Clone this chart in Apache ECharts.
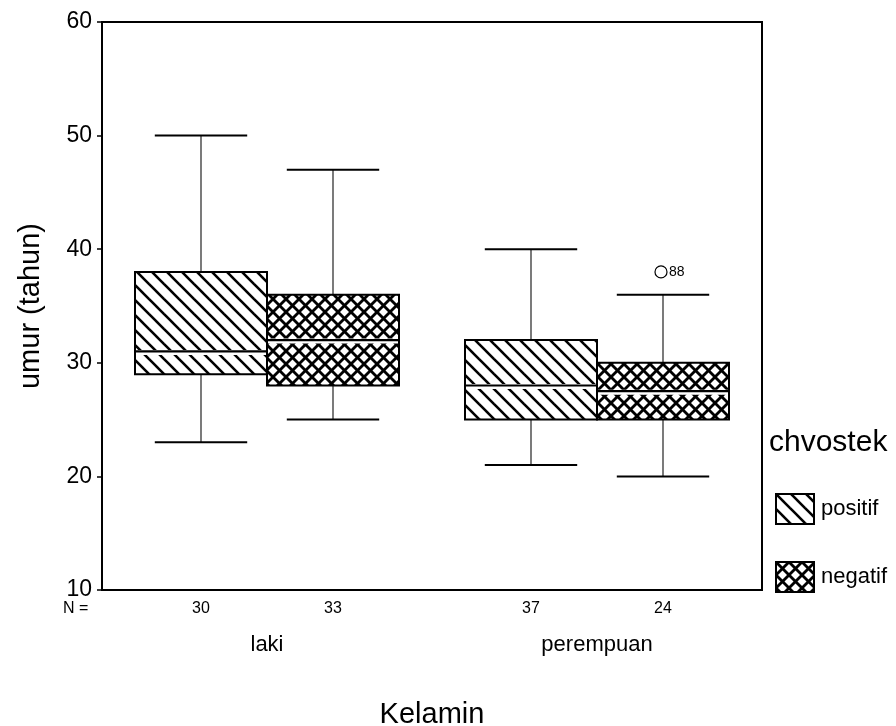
<!DOCTYPE html>
<html><head><meta charset="utf-8">
<script src="https://cdn.jsdelivr.net/npm/echarts@6/dist/echarts.min.js"></script>
<style>html,body{margin:0;padding:0;background:#fff}#c{width:896px;height:726px}</style>
</head><body><div id="c"></div>
<script>
// ---- data ----
const categories = ['laki', 'perempuan'];
const seriesNames = ['positif', 'negatif'];
// [min, Q1, median, Q3, max]
const positifStats = [[23, 29, 31, 38, 50], [21, 25, 28, 32, 40]];
const negatifStats = [[25, 28, 32, 36, 47], [20, 25, 27.5, 30, 36]];
const positifN = [30, 37];
const negatifN = [33, 24];
// [categoryIndex, value, case label]
const negatifOutliers = [[1, 38, '88']];
const yMin = 10, yMax = 60, yInterval = 10;

const FONT = '"Liberation Sans", Arial, sans-serif';

function hatchCanvas(size, width, cross) {
  const cv = document.createElement('canvas');
  cv.width = size; cv.height = size;
  const ctx = cv.getContext('2d');
  ctx.fillStyle = '#fff'; ctx.fillRect(0, 0, size, size);
  ctx.strokeStyle = '#000'; ctx.lineWidth = width;
  for (const c of [-size, 0, size]) {
    ctx.beginPath(); ctx.moveTo(-3, -3 + c); ctx.lineTo(size + 3, size + 3 + c); ctx.stroke();
    if (cross) { ctx.beginPath(); ctx.moveTo(-3, size + 3 + c); ctx.lineTo(size + 3, -3 + c); ctx.stroke(); }
  }
  return cv;
}
const patPositif = {image: hatchCanvas(15, 2.6, false), repeat: 'repeat'};
const patNegatif = {image: hatchCanvas(13, 2.8, true), repeat: 'repeat'};

function boxRenderer(side, fill) {
  return function (params, api) {
    const cat = api.value(0);
    const bw = api.size([1, 0])[0];
    const c = api.coord([cat, yMin])[0];
    const w = 0.4 * bw;
    const x0 = side < 0 ? c - w : c;
    const bc = x0 + w / 2;
    const cap = 0.14 * bw;
    const yv = k => api.coord([cat, api.value(k)])[1];
    const yLo = yv(1), yQ1 = yv(2), yMed = yv(3), yQ3 = yv(4), yHi = yv(5);
    const yBase = api.coord([cat, yMin])[1];
    const thin = {stroke: '#333', lineWidth: 1.3};
    const thick = {stroke: '#000', lineWidth: 2};
    return {type: 'group', children: [
      {type: 'line', shape: {x1: bc, y1: yHi, x2: bc, y2: yQ3}, style: thin},
      {type: 'line', shape: {x1: bc, y1: yLo, x2: bc, y2: yQ1}, style: thin},
      {type: 'line', shape: {x1: bc - cap, y1: yHi, x2: bc + cap, y2: yHi}, style: thick},
      {type: 'line', shape: {x1: bc - cap, y1: yLo, x2: bc + cap, y2: yLo}, style: thick},
      {type: 'rect', shape: {x: x0, y: yQ3, width: w, height: yQ1 - yQ3}, style: {fill: fill, stroke: null}},
      {type: 'line', shape: {x1: x0, y1: yMed + 1, x2: x0 + w, y2: yMed + 1}, style: {stroke: '#fff', lineWidth: 5}},
      {type: 'line', shape: {x1: x0, y1: yMed, x2: x0 + w, y2: yMed}, style: {stroke: '#000', lineWidth: 2.2}},
      {type: 'rect', shape: {x: x0, y: yQ3, width: w, height: yQ1 - yQ3}, style: {fill: null, stroke: '#000', lineWidth: 2}},
      {type: 'text', style: {text: String(api.value(6)), x: bc, y: yBase + 19, align: 'center', verticalAlign: 'middle',
        fontSize: 16, fontFamily: FONT, fill: '#000'}}
    ]};
  };
}

function outlierRenderer(side) {
  return function (params, api) {
    const cat = api.value(0);
    const bw = api.size([1, 0])[0];
    const c = api.coord([cat, yMin])[0];
    const w = 0.4 * bw;
    const bc = (side < 0 ? c - w : c) + w / 2;
    const y = api.coord([cat, api.value(1)])[1];
    return {type: 'group', children: [
      {type: 'circle', shape: {cx: bc - 2, cy: y, r: 6}, style: {fill: null, stroke: '#000', lineWidth: 1.2}},
      {type: 'text', style: {text: String(api.value(2)), x: bc + 6, y: y, align: 'left', verticalAlign: 'middle',
        fontSize: 14, fontFamily: FONT, fill: '#000'}}
    ]};
  };
}

const chart = echarts.init(document.getElementById('c'), null, {renderer: 'canvas'});
chart.setOption({
  backgroundColor: '#fff',
  animation: false,
  textStyle: {fontFamily: FONT},
  grid: {left: 102, right: 134, top: 22, bottom: 136, show: true, borderColor: '#000', borderWidth: 2,
    containLabel: false, outerBoundsMode: 'none'},
  title: {text: 'chvostek', left: 769, top: 428, padding: 0,
    textStyle: {fontSize: 30, fontWeight: 'normal', color: '#000', fontFamily: FONT}},
  legend: {
    orient: 'vertical', left: 775, top: 493, padding: 0, itemWidth: 38, itemHeight: 30, itemGap: 36,
    data: seriesNames.map(n => ({name: n, icon: 'rect'})),
    itemStyle: {borderColor: '#000', borderWidth: 2},
    textStyle: {fontSize: 22, color: '#000', fontFamily: FONT, padding: [0, 0, 0, 2]},
    selectedMode: false
  },
  graphic: [{type: 'text', left: 63, top: 601, style: {text: 'N =', fontSize: 16, fontFamily: FONT, fill: '#000'}}],
  xAxis: {
    type: 'category', data: categories, boundaryGap: true,
    name: 'Kelamin', nameLocation: 'middle', nameGap: 110,
    nameTextStyle: {fontSize: 29, color: '#000', fontFamily: FONT},
    axisLine: {lineStyle: {color: '#000', width: 2}},
    axisTick: {alignWithLabel: true, length: 6, lineStyle: {color: '#000', width: 1.5}},
    axisLabel: {fontSize: 22, color: '#000', margin: 44, fontFamily: FONT},
    splitLine: {show: false}
  },
  yAxis: {
    type: 'value', min: yMin, max: yMax, interval: yInterval,
    name: 'umur (tahun)', nameLocation: 'middle', nameGap: 57,
    nameTextStyle: {fontSize: 29, color: '#000', fontFamily: FONT},
    axisLine: {show: true, lineStyle: {color: '#000', width: 2}},
    axisTick: {show: true, length: 5, lineStyle: {color: '#000', width: 1.5}},
    axisLabel: {fontSize: 23, color: '#000', margin: 10, fontFamily: FONT},
    splitLine: {show: false}
  },
  series: [
    {name: 'positif', type: 'custom', clip: false, renderItem: boxRenderer(-1, patPositif),
     itemStyle: {color: patPositif, borderColor: '#000', borderWidth: 2},
     encode: {x: 0, y: [1, 2, 3, 4, 5]},
     data: positifStats.map((s, i) => [i, ...s, positifN[i]])},
    {name: 'negatif', type: 'custom', clip: false, renderItem: boxRenderer(1, patNegatif),
     itemStyle: {color: patNegatif, borderColor: '#000', borderWidth: 2},
     encode: {x: 0, y: [1, 2, 3, 4, 5]},
     data: negatifStats.map((s, i) => [i, ...s, negatifN[i]])},
    {name: 'outlier', type: 'custom', clip: false, renderItem: outlierRenderer(1),
     encode: {x: 0, y: 1},
     data: negatifOutliers}
  ]
});
</script>
</body></html>
